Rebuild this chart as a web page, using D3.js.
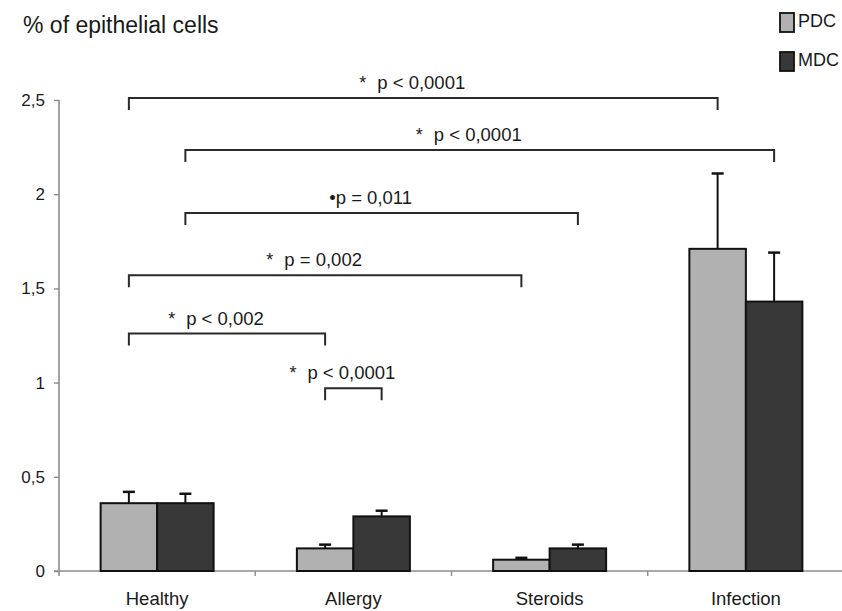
<!DOCTYPE html>
<html>
<head>
<meta charset="utf-8">
<script src="https://cdn.jsdelivr.net/npm/d3@7"></script>
<style>
  body { margin: 0; background: #fff; }
  text { font-family: "Liberation Sans", Arial, Helvetica, sans-serif; fill: #1a1a1a; }
</style>
</head>
<body>
<svg width="842" height="611"></svg>
<script>
// data
var categories = ["Healthy", "Allergy", "Steroids", "Infection"];
var series = ["PDC", "MDC"];
var pdcMean = [0.36, 0.12, 0.06, 1.71];
var pdcErr  = [0.42, 0.14, 0.07, 2.11];
var mdcMean = [0.36, 0.29, 0.12, 1.43];
var mdcErr  = [0.41, 0.32, 0.14, 1.69];
var yTicks = [0, 0.5, 1, 1.5, 2, 2.5];
var yTickLabels = ["0", "0,5", "1", "1,5", "2", "2,5"];

// significance brackets: [from category, from series], [to category, to series], level, mark, text
var brackets = [
  { a: [0, 0], b: [3, 0], level: 2.51, mark: "*", text: "p < 0,0001" },
  { a: [0, 1], b: [3, 1], level: 2.235, mark: "*", text: "p < 0,0001" },
  { a: [0, 1], b: [2, 1], level: 1.90, mark: "\u2022", text: "p = 0,011" },
  { a: [0, 0], b: [2, 0], level: 1.57, mark: "*", text: "p = 0,002" },
  { a: [0, 0], b: [1, 0], level: 1.26, mark: "*", text: "p < 0,002" },
  { a: [1, 0], b: [1, 1], level: 0.97, mark: "*", text: "p < 0,0001" }
];

var colors = { PDC: "#b1b1b1", MDC: "#383838" };

var svg = d3.select("svg");

var x0 = d3.scaleBand().domain(categories).range([59, 844]);
var barW = 56.5;
var x1 = d3.scaleBand().domain(series)
  .range([x0.bandwidth() / 2 - barW, x0.bandwidth() / 2 + barW]);
var y = d3.scaleLinear().domain([0, 2.5]).range([571, 100]);

function barCenter(ci, si) {
  return x0(categories[ci]) + x1(series[si]) + x1.bandwidth() / 2;
}

// title
svg.append("text")
  .attr("x", 23).attr("y", 33)
  .style("font-size", "23px")
  .text("% of epithelial cells");

// y axis
var yAxis = svg.append("g").attr("transform", "translate(59,0)")
  .call(d3.axisLeft(y).tickValues(yTicks)
    .tickFormat(function(d, i) { return yTickLabels[i]; })
    .tickSize(5).tickSizeOuter(0).tickPadding(9));
yAxis.select(".domain").attr("stroke", "#8c8c8c").attr("stroke-width", 1.6)
  .attr("d", "M0," + y(2.5) + "V" + (y(0) + 5));
yAxis.selectAll(".tick line").attr("stroke", "#8c8c8c").attr("stroke-width", 1.4);
yAxis.selectAll(".tick text").style("font-size", "17px").attr("fill", "#1a1a1a");

// x axis
var xAxis = svg.append("g").attr("transform", "translate(0," + y(0) + ")");
xAxis.append("line")
  .attr("x1", 54).attr("x2", 842).attr("y1", 0).attr("y2", 0)
  .attr("stroke", "#8c8c8c").attr("stroke-width", 1.6);
xAxis.selectAll(".xtick")
  .data(categories.slice(1))
  .enter().append("line")
  .attr("x1", function(d) { return x0(d); })
  .attr("x2", function(d) { return x0(d); })
  .attr("y1", 0).attr("y2", 5)
  .attr("stroke", "#8c8c8c").attr("stroke-width", 1.4);
xAxis.selectAll(".xlabel")
  .data(categories)
  .enter().append("text")
  .attr("x", function(d) { return x0(d) + x0.bandwidth() / 2; })
  .attr("y", 34)
  .attr("text-anchor", "middle")
  .style("font-size", "18.5px")
  .text(function(d) { return d; });

// bars with error bars
var rows = [];
categories.forEach(function(c, i) {
  rows.push({ cat: c, s: "PDC", v: pdcMean[i], e: pdcErr[i] });
  rows.push({ cat: c, s: "MDC", v: mdcMean[i], e: mdcErr[i] });
});

var bars = svg.append("g");
bars.selectAll("line.err")
  .data(rows)
  .enter().append("line")
  .attr("class", "err")
  .attr("x1", function(d) { return x0(d.cat) + x1(d.s) + x1.bandwidth() / 2; })
  .attr("x2", function(d) { return x0(d.cat) + x1(d.s) + x1.bandwidth() / 2; })
  .attr("y1", function(d) { return y(d.v); })
  .attr("y2", function(d) { return y(d.e); })
  .attr("stroke", "#111").attr("stroke-width", 2);
bars.selectAll("line.cap")
  .data(rows)
  .enter().append("line")
  .attr("class", "cap")
  .attr("x1", function(d) { return x0(d.cat) + x1(d.s) + x1.bandwidth() / 2 - 6; })
  .attr("x2", function(d) { return x0(d.cat) + x1(d.s) + x1.bandwidth() / 2 + 6; })
  .attr("y1", function(d) { return y(d.e); })
  .attr("y2", function(d) { return y(d.e); })
  .attr("stroke", "#111").attr("stroke-width", 2.5);
bars.selectAll("rect")
  .data(rows)
  .enter().append("rect")
  .attr("x", function(d) { return x0(d.cat) + x1(d.s); })
  .attr("y", function(d) { return y(d.v); })
  .attr("width", x1.bandwidth())
  .attr("height", function(d) { return y(0) - y(d.v); })
  .attr("fill", function(d) { return colors[d.s]; })
  .attr("stroke", "#111").attr("stroke-width", 2);

// significance brackets
var br = svg.append("g").selectAll("g")
  .data(brackets)
  .enter().append("g");
br.append("path")
  .attr("d", function(d) {
    var xa = barCenter(d.a[0], d.a[1]), xb = barCenter(d.b[0], d.b[1]), yy = y(d.level);
    return "M" + xa + "," + (yy + 12) + "V" + yy + "H" + xb + "V" + (yy + 12);
  })
  .attr("fill", "none").attr("stroke", "#2a2a2a").attr("stroke-width", 2);
var lbl = br.append("text")
  .attr("x", function(d) { return (barCenter(d.a[0], d.a[1]) + barCenter(d.b[0], d.b[1])) / 2 - 11; })
  .attr("y", function(d) { return y(d.level) - 9; })
  .attr("text-anchor", "middle")
  .style("font-size", "18.5px");
lbl.append("tspan")
  .style("font-size", function(d) { return d.mark === "*" ? "18px" : "18.5px"; })
  .text(function(d) { return d.mark; });
lbl.append("tspan")
  .attr("dx", function(d) { return d.mark === "*" ? 11 : 0; })
  .text(function(d) { return d.text; });

// legend
var leg = svg.append("g").selectAll("g")
  .data(series)
  .enter().append("g")
  .attr("transform", function(d, i) { return "translate(780," + (13 + i * 39) + ")"; });
leg.append("rect")
  .attr("width", 14).attr("height", 19)
  .attr("fill", function(d) { return colors[d]; })
  .attr("stroke", "#111").attr("stroke-width", 1.8);
leg.append("text")
  .attr("x", 18).attr("y", 14)
  .style("font-size", "18px")
  .text(function(d) { return d; });
</script>
</body>
</html>
